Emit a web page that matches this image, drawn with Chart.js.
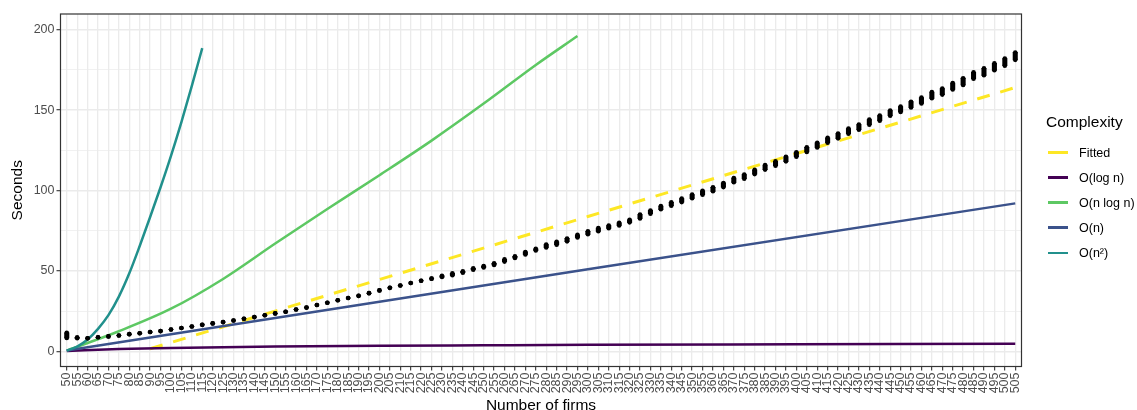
<!DOCTYPE html>
<html>
<head>
<meta charset="utf-8">
<script src="https://cdn.jsdelivr.net/npm/chart.js@4.4.1/dist/chart.umd.min.js"></script>
<style>
  html,body{margin:0;padding:0;background:#fff;}
  #wrap{position:relative;width:1137px;height:410px;overflow:hidden;font-family:"Liberation Sans",Arial,sans-serif;}
  #legend{position:absolute;left:1046px;top:113px;}
  #legend .title{font-size:15.5px;color:#000;height:27px;line-height:18px;}
  #legend .item{height:25.1px;display:flex;align-items:center;font-size:12.5px;color:#000;}
  #legend .swatch{width:20px;height:2.8px;margin-left:2px;margin-right:11px;}
</style>
</head>
<body>
<div id="wrap">
  <canvas id="chart" width="1137" height="410"></canvas>
  <div id="legend"></div>
</div>
<script>
// ========== Data ==========
const firms = [50,55,60,65,70,75,80,85,90,95,100,105,110,115,120,125,130,135,140,145,
  150,155,160,165,170,175,180,185,190,195,200,205,210,215,220,225,230,235,240,245,
  250,255,260,265,270,275,280,285,290,295,300,305,310,315,320,325,330,335,340,345,
  350,355,360,365,370,375,380,385,390,395,400,405,410,415,420,425,430,435,440,445,
  450,455,460,465,470,475,480,485,490,495,500,505];

// measured run times (lowest / highest replicate) per number of firms
const timeLow = [8.3,8.2,8.2,8.8,9.3,9.9,10.7,11.3,12.0,12.6,
  13.6,14.5,15.5,16.5,17.4,18.2,19.2,20.3,21.3,22.5,
  23.6,24.6,26.0,27.2,28.8,30.2,31.8,33.2,34.5,36.2,
  37.9,39.5,40.9,42.5,43.9,45.2,46.2,47.3,48.9,50.8,
  52.2,53.7,55.8,58.1,60.2,62.7,64.6,66.3,68.4,70.8,
  72.8,74.7,76.6,78.3,80.2,82.6,85.6,88.3,90.5,92.8,
  95.2,97.4,99.6,102.1,105.1,107.3,110.2,113.0,115.4,118.1,
  121.0,123.9,126.7,129.7,132.4,135.3,137.8,140.9,143.4,146.5,
  148.8,151.6,154.1,157.4,159.6,162.8,165.6,169.5,171.7,174.8,
  177.6,181.2];
const timeHigh = [11.6,8.8,8.2,8.8,9.3,9.9,10.7,11.3,12.0,12.6,
  13.6,14.5,15.5,16.5,17.4,18.2,19.2,20.3,21.3,22.5,
  23.6,24.6,26.0,27.2,28.8,30.2,31.8,33.2,34.5,36.2,
  37.9,39.5,40.9,42.5,43.9,45.2,47.0,48.5,49.7,51.6,
  53.0,54.7,57.2,59.1,61.8,63.7,66.4,68.1,70.2,72.4,
  74.6,76.7,78.2,79.9,81.8,85.0,87.6,90.3,92.7,95.0,
  97.4,99.8,102.0,104.7,107.7,109.9,112.8,115.8,118.2,120.9,
  123.8,126.9,129.7,132.7,135.4,138.5,141.0,144.1,146.6,149.7,
  152.2,155.2,157.7,161.2,163.4,166.8,169.8,173.5,175.9,179.0,
  182.0,185.8];

// complexity reference curves
const fittedX = [90,300,505];
const fittedY = [1.6,83.8,164];
const logNX = [50,75,100,125,150,200,250,300,400,505];
const logNY = [0.3,1.5,2.1,2.6,3.0,3.5,3.8,4.1,4.4,4.7];
const nLogNX = [50,75,100,125,150,175,200,225,250,275,295];
const nLogNY = [0.5,12.5,26.5,45,67,88.5,109.5,131,154,178,196];
const nX = [50,300,505];
const nY = [0.5,51,92];
const n2X = [50,55,60,65,70,75,80,85,90,95,100,105,110,115];
const n2Y = [0.5,3.0,7.4,14.0,22.5,34.0,48.5,65.5,83.5,102,121.5,142.5,165,188.5];

const yTicks = [0,50,100,150,200];

// ========== Helpers ==========
const FONT = '"Liberation Sans", Arial, sans-serif';
function pts(xs, ys){ return xs.map((x,i)=>({x, y:ys[i]})); }

const series = [
  {label:'Fitted',     color:'#FDE725', xs:fittedX, ys:fittedY, dash:[13,11], width:3, order:6, smooth:false},
  {label:'O(log n)',   color:'#440154', xs:logNX,   ys:logNY,   dash:[], width:2.5, order:5, smooth:true},
  {label:'O(n log n)', color:'#5DC863', xs:nLogNX,  ys:nLogNY,  dash:[], width:2.5, order:4, smooth:true},
  {label:'O(n)',       color:'#3B528B', xs:nX,      ys:nY,      dash:[], width:2.5, order:3, smooth:false},
  {label:'O(n²)',      color:'#21908C', xs:n2X,     ys:n2Y,     dash:[], width:2.5, order:2, smooth:true}
];

// ========== Datasets ==========
const datasets = series.map(s=>({
  type:'line',
  label:s.label,
  data:pts(s.xs, s.ys),
  borderColor:s.color,
  borderWidth:s.width,
  borderDash:s.dash,
  borderCapStyle:'butt',
  pointRadius:0,
  fill:false,
  cubicInterpolationMode: s.smooth ? 'monotone' : 'default',
  tension:0,
  order:s.order
}));

datasets.push({
  type:'bar',
  label:'spread',
  data:firms.map((n,i)=>({x:n, y:[timeLow[i], timeHigh[i]]})),
  backgroundColor:'#000',
  borderWidth:0,
  barThickness:4.4,
  order:1
});
datasets.push({
  type:'scatter',
  label:'low',
  data:pts(firms, timeLow),
  pointRadius:2.3,
  pointBackgroundColor:'#000',
  pointBorderWidth:0,
  showLine:false,
  order:0
});
datasets.push({
  type:'scatter',
  label:'high',
  data:pts(firms, timeHigh),
  pointRadius:2.3,
  pointBackgroundColor:'#000',
  pointBorderWidth:0,
  showLine:false,
  order:0
});

// panel border like theme_bw
const panelBorder = {
  id:'panelBorder',
  afterDatasetsDraw(chart){
    const {ctx, chartArea:a} = chart;
    ctx.save();
    ctx.strokeStyle = '#333333';
    ctx.lineWidth = 1.2;
    ctx.strokeRect(a.left, a.top, a.right - a.left, a.bottom - a.top);
    ctx.restore();
  }
};

// ========== Chart ==========
const ctx = document.getElementById('chart').getContext('2d');
new Chart(ctx, {
  type:'line',
  data:{datasets},
  options:{
    responsive:false,
    animation:false,
    events:[],
    layout:{padding:{left:0, right:115.5, top:14, bottom:0}},
    plugins:{legend:{display:false}, tooltip:{enabled:false}},
    scales:{
      x:{
        type:'linear',
        min:47, max:508,
        offset:false,
        afterFit(scale){ scale.height = 43.5; },
        border:{display:false},
        grid:{color:'#ebebeb', lineWidth:1.3, offset:false, tickLength:4, tickColor:'#333333', tickWidth:1.1},
        ticks:{
          stepSize:5, autoSkip:false, includeBounds:false,
          minRotation:90, maxRotation:90, padding:2,
          color:'#4d4d4d', font:{family:FONT, size:12.5},
          callback:v=>String(v)
        },
        title:{display:true, text:'Number of firms', color:'#000', font:{family:FONT, size:15.5, lineHeight:1}, padding:{top:0, bottom:-3}}
      },
      y:{
        type:'linear',
        min:-9.4, max:209.7,
        beginAtZero:false,
        afterFit(scale){ scale.width = 60.5; },
        border:{display:false},
        grid:{
          color:'#ebebeb',
          lineWidth:c=> yTicks.includes(c.tick.value) ? 1.4 : 0.7,
          tickLength:4,
          tickColor:c=> yTicks.includes(c.tick.value) ? '#333333' : 'rgba(0,0,0,0)',
          tickWidth:1.1
        },
        ticks:{
          stepSize:25, includeBounds:false, padding:2,
          color:'#4d4d4d', font:{family:FONT, size:12.5},
          callback:v=> yTicks.includes(v) ? String(v) : ''
        },
        title:{display:true, text:'Seconds', color:'#000', font:{family:FONT, size:15.5, lineHeight:1}, padding:{top:10, bottom:0}}
      }
    }
  },
  plugins:[panelBorder]
});

// ========== Legend ==========
const legend = document.getElementById('legend');
legend.innerHTML = '<div class="title">Complexity</div>' + series.map(s=>
  `<div class="item"><span class="swatch" style="background:${s.color}"></span>${s.label}</div>`).join('');
</script>
</body>
</html>
